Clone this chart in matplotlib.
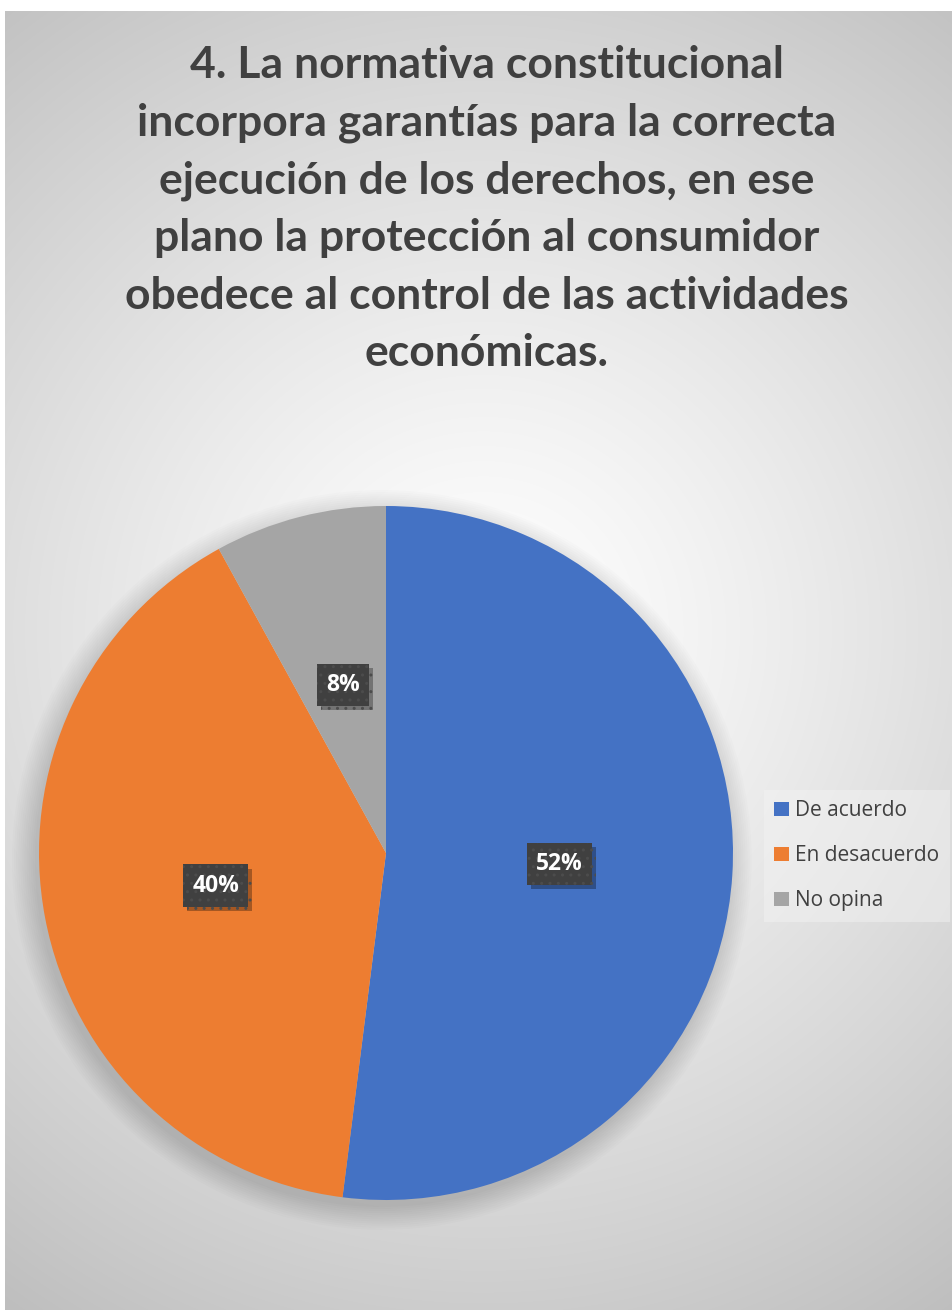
import numpy as np
from matplotlib import pyplot as plt
from matplotlib import patheffects
from matplotlib.patches import Patch


title = ("4. La normativa constitucional\n"
         "incorpora garantías para la correcta\n"
         "ejecución de los derechos, en ese\n"
         "plano la protección al consumidor\n"
         "obedece al control de las actividades\n"
         "económicas.")
categories = ['De acuerdo', 'En desacuerdo', 'No opina']
values = [52, 40, 8]
colors = ['#4472C4', '#ED7D31', '#A5A5A5']

plt.rcParams['hatch.linewidth'] = 1.0

W, H = 953, 1310
fig = plt.figure(figsize=(W / 100, H / 100), dpi=100)
fig.patch.set_facecolor('white')

# radial gray background behind the whole chart area
bg = fig.add_axes([5 / W, 0, 1 - 5 / W, 1 - 11 / H])
bg.set_axis_off()
yy, xx = np.mgrid[0:1299, 0:948]
cx, cy = 478, 620
d = np.sqrt((xx - cx) ** 2 + (yy - cy) ** 2) / 816.0
shade = 1.0 - 0.25 * np.clip(d, 0, 1.2) ** 1.25
img = np.dstack([shade, shade, shade])
bg.imshow(img, aspect='auto', extent=(0, 1, 0, 1), interpolation='bilinear')
bg.set_xlim(0, 1)
bg.set_ylim(0, 1)

fig.text(487 / W, 1 - 45 / H, title, ha='center', va='top', fontsize=32,
         fontweight='bold', color='#404040', family='Lato', linespacing=1.53)

# pie axes: centre (386, 853) px, radius 347 px
r = 347
ax = fig.add_axes([(386 - r) / W, (H - 853 - r) / H, 2 * r / W, 2 * r / H])
ax.set_axis_off()

# soft shadow under the pie
for k in range(12):
    ax.add_patch(plt.Circle((-0.012, -0.02), 1.0 + 0.006 * k, color='black',
                            alpha=0.012, lw=0, zorder=0, clip_on=False))

wedges, texts = ax.pie(values, colors=colors, startangle=90, counterclock=False,
                       radius=1.0, wedgeprops=dict(linewidth=0, zorder=1))
ax.set_xlim(-1, 1)
ax.set_ylim(-1, 1)

# value labels in dark boxes
theta = 90.0
for v in values:
    span = v / sum(values) * 360
    mid = np.deg2rad(theta - span / 2)
    theta -= span
    x, y = 0.5 * np.cos(mid), 0.5 * np.sin(mid)
    t = ax.text(x, y, f'{v}%', ha='center', va='center', fontsize=16.5,
                fontweight='bold', color='white', family='Open Sans',
                zorder=5,
                bbox=dict(boxstyle='square,pad=0.4', facecolor='#404040',
                          edgecolor='#4c4c4c', linewidth=0, hatch='..'))
    t.get_bbox_patch().set_path_effects([
        patheffects.SimplePatchShadow(offset=(3, -3), shadow_rgbFace='black',
                                      alpha=0.3),
        patheffects.Normal()])

handles = [Patch(facecolor=c, edgecolor='none') for c in colors]
leg = fig.legend(handles, categories, loc='upper left',
                 bbox_to_anchor=(764 / W, 1 - 790 / H), borderaxespad=0,
                 frameon=True, fancybox=False, framealpha=0.45,
                 facecolor='#f4f4f4', edgecolor='none',
                 handlelength=0.7, handleheight=0.7, handletextpad=0.3,
                 labelspacing=1.15, borderpad=0.5,
                 prop={'family': 'Open Sans', 'size': 15})
for txt in leg.get_texts():
    txt.set_color('#404040')

fig.savefig('out.png', dpi=100)
